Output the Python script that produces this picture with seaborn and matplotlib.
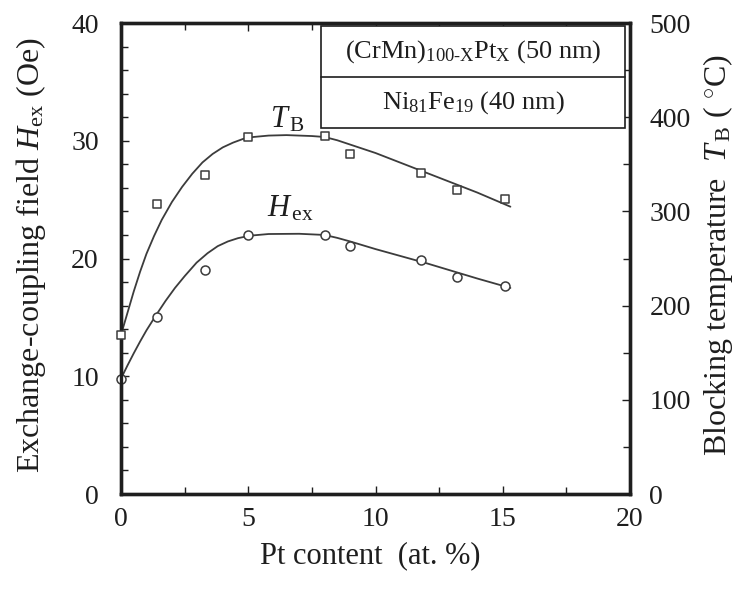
import numpy as np
import pandas as pd
import seaborn as sns
import matplotlib.pyplot as plt
from matplotlib.patches import Rectangle
from matplotlib.lines import Line2D
from matplotlib.ticker import MultipleLocator

# Measured points: Pt content (at.%) vs exchange-coupling field and blocking temperature
pt_content = [0.0, 1.4, 3.3, 5.0, 8.0, 9.0, 11.8, 13.2, 15.1]
h_ex = [9.8, 15.0, 19.0, 22.0, 22.0, 21.1, 19.9, 18.4, 17.7]          # Oe
t_block = [169, 308, 339, 379, 380, 361, 341, 323, 313]               # deg C

# Hand-drawn guide curves (knots)
hex_curve_x = [0, 0.25, 0.5, 0.75, 1.0, 1.38, 1.75, 2.12, 2.5, 2.97, 3.4, 3.8,
               4.2, 4.6, 5.07, 5.8, 7.0, 8.0, 8.5, 9.0, 10, 12, 14, 15.3]
hex_curve_y = [9.8, 10.9, 11.95, 12.95, 13.9, 15.2, 16.4, 17.5, 18.5, 19.65, 20.45, 21.05,
               21.45, 21.73, 21.94, 22.08, 22.1, 22.0, 21.75, 21.45, 20.8, 19.6, 18.3, 17.5]
tb_curve_x = [0, 0.25, 0.5, 0.75, 1.0, 1.3, 1.6, 2.0, 2.4, 2.8, 3.2, 3.6, 4.0,
              4.4, 4.8, 5.2, 5.8, 6.5, 7.5, 8.0, 8.5, 9.0, 10, 12, 14, 15.3]
tb_curve_y = [169, 192, 215, 236, 255, 274, 291, 310, 326, 340, 352, 361, 368,
              373, 377, 379, 380.5, 381, 380, 379, 375.5, 371, 362, 341, 320, 305]

x_ticks = [0, 5, 10, 15, 20]
hex_ticks = [0, 10, 20, 30, 40]
tb_ticks = [0, 100, 200, 300, 400, 500]

points = pd.DataFrame({"pt": pt_content, "hex": h_ex, "tb": t_block})
hex_curve = pd.DataFrame({"pt": hex_curve_x, "hex": hex_curve_y})
tb_curve = pd.DataFrame({"pt": tb_curve_x, "tb": tb_curve_y})

sns.set_style("ticks")
plt.rcParams["font.family"] = ["Liberation Serif", "DejaVu Serif"]
plt.rcParams["mathtext.fontset"] = "custom"
plt.rcParams["mathtext.rm"] = "Liberation Serif"
plt.rcParams["mathtext.it"] = "Liberation Serif:italic"
plt.rcParams["mathtext.bf"] = "Liberation Serif:bold"

ink = "#1e1e1e"
line_col = "#3c3c3c"

fig = plt.figure(figsize=(7.47, 5.90), dpi=100)
ax = fig.add_axes([0.162, 0.1627, 0.6814, 0.7983])
ax2 = ax.twinx()

# Exchange-coupling field on the left axis
sns.lineplot(data=hex_curve, x="pt", y="hex", ax=ax, color=line_col, lw=1.3,
             sort=False, legend=False, zorder=2)
sns.scatterplot(data=points, x="pt", y="hex", ax=ax, marker="o", s=42,
                facecolor="white", edgecolor=line_col, linewidth=1.1, zorder=3,
                clip_on=False)

# Blocking temperature on the right axis
sns.lineplot(data=tb_curve, x="pt", y="tb", ax=ax2, color=line_col, lw=1.3,
             sort=False, legend=False, zorder=2)
sns.scatterplot(data=points, x="pt", y="tb", ax=ax2, marker="s", s=40,
                facecolor="white", edgecolor=line_col, linewidth=1.1, zorder=3,
                clip_on=False)

ax.set_xlim(0, 20)
ax.set_ylim(0, 40)
ax2.set_ylim(0, 500)

ax.xaxis.set_major_locator(MultipleLocator(5))
ax.xaxis.set_minor_locator(MultipleLocator(2.5))
ax.set_xticks(x_ticks)
ax.yaxis.set_major_locator(MultipleLocator(10))
ax.yaxis.set_minor_locator(MultipleLocator(2))
ax.set_yticks(hex_ticks)
ax2.yaxis.set_major_locator(MultipleLocator(100))
ax2.yaxis.set_minor_locator(MultipleLocator(50))
ax2.set_yticks(tb_ticks)

ax.tick_params(axis="x", which="both", direction="in", top=True, bottom=True,
               width=1.0, colors=ink, labelsize=20, pad=9)
ax.tick_params(axis="x", which="major", length=6)
ax.tick_params(axis="x", which="minor", length=5)
ax.tick_params(axis="y", which="both", direction="in", left=True, right=False,
               width=1.0, colors=ink, labelsize=20, pad=16)
ax.tick_params(axis="y", which="major", length=6)
ax.tick_params(axis="y", which="minor", length=5)
ax2.tick_params(axis="y", which="both", direction="in", right=True, left=False,
                width=1.0, colors=ink, labelsize=20, pad=14)
ax2.tick_params(axis="y", which="major", length=6)
ax2.tick_params(axis="y", which="minor", length=5)

for a in (ax, ax2):
    for sp in a.spines.values():
        sp.set_linewidth(2.4)
        sp.set_color(ink)

ax.set_xlabel("Pt content  (at. %)", fontsize=22, color=ink)
ax.set_ylabel(r"Exchange-coupling field $H_{\mathrm{ex}}$ (Oe)", fontsize=23, color=ink)
ax2.set_ylabel(r"Blocking temperature  $T_{\,\mathrm{B}}$ ( $^{\circ}$C)", fontsize=23, color=ink)
ax.xaxis.set_label_coords(0.49, -0.13)
ax.xaxis.label.set_verticalalignment("center")
ax.yaxis.set_label_coords(-0.177, 0.507)
ax.yaxis.label.set_verticalalignment("center")
ax2.yaxis.set_label_coords(1.173, 0.507)
ax2.yaxis.label.set_verticalalignment("center")

# Curve labels
ax.text(0.327, 0.795, r"$T_{\,\mathrm{B}}$", transform=ax.transAxes, fontsize=22,
        ha="center", va="center", color=ink)
ax.text(0.333, 0.605, r"$H_{\,\mathrm{ex}}$", transform=ax.transAxes, fontsize=22,
        ha="center", va="center", color=ink)

# Layer-structure inset box
bx0, bx1 = 0.392, 0.991
by0, by1, bmid = 0.777, 0.9936, 0.885
ax2.add_patch(Rectangle((bx0, by0), bx1 - bx0, by1 - by0, transform=ax.transAxes,
                        facecolor="white", edgecolor=ink, lw=1.2, zorder=5))
ax2.add_line(Line2D([bx0, bx1], [bmid, bmid], transform=ax.transAxes,
                    color=ink, lw=1.2, zorder=6))
ax2.text((bx0 + bx1) / 2, (bmid + by1) / 2,
         r"(CrMn)$_{\text{100-X}}$Pt$_{\text{X}}$ (50 nm)", transform=ax.transAxes,
         fontsize=19, ha="center", va="center", color=ink, zorder=7)
ax2.text((bx0 + bx1) / 2, (by0 + bmid) / 2,
         r"Ni$_{\text{81}}$Fe$_{\text{19}}$ (40 nm)", transform=ax.transAxes,
         fontsize=19, ha="center", va="center", color=ink, zorder=7)

fig.savefig("out.png", dpi=100, facecolor="white")
